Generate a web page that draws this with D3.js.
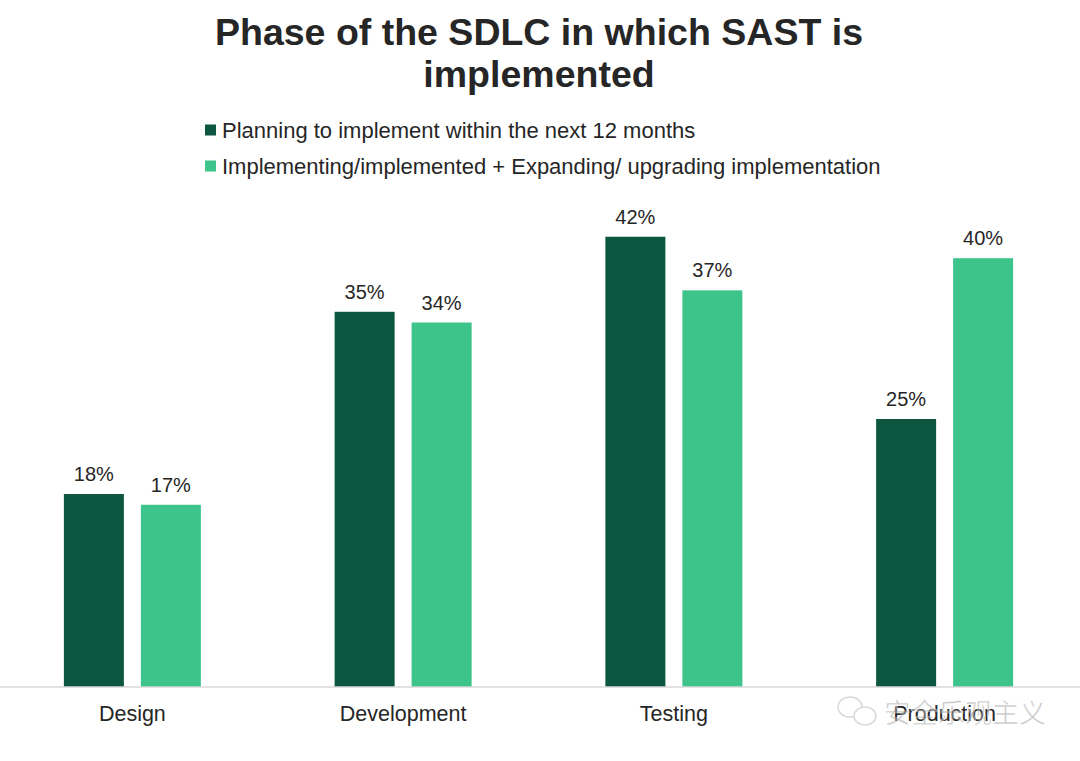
<!DOCTYPE html>
<html><head><meta charset="utf-8">
<script src="https://cdn.jsdelivr.net/npm/d3@7"></script>
<style>body{margin:0;background:#fff;}svg{display:block;font-family:"Liberation Sans",Arial,sans-serif;}</style>
</head><body><svg id="c" width="1080" height="761"></svg>
<script>
const categories = ["Design", "Development", "Testing", "Production"];
const seriesNames = ["Planning to implement within the next 12 months", "Implementing/implemented + Expanding/ upgrading implementation"];
const planning = [18, 35, 42, 25];
const implementing = [17, 34, 37, 40];
const colors = ["#0d5640", "#3cc48a"];
const titleLines = ["Phase of the SDLC in which SAST is", "implemented"];

const svg = d3.select("#c");
const baseY = 687;
const x0 = d3.scaleBand().domain(categories).range([-3, 1080]).paddingInner(0).paddingOuter(0);
const x1 = d3.scaleBand().domain([0, 1]).range([-68.5, 68.5]).paddingInner(17 / 77).paddingOuter(0);
const y = d3.scaleLinear().domain([0, 45]).range([baseY, baseY - 45 * 10.72]);

// title
svg.append("g").selectAll("text").data(titleLines).join("text")
  .attr("x", 539).attr("y", (d, i) => 45 + i * 42)
  .attr("text-anchor", "middle").attr("font-size", 37.5).attr("font-weight", "bold")
  .attr("fill", "#262626").text(d => d);

// legend
const lg = svg.append("g").selectAll("g").data(seriesNames).join("g")
  .attr("transform", (d, i) => `translate(205, ${130 + i * 36})`);
lg.append("rect").attr("x", 0).attr("y", -5.5).attr("width", 11).attr("height", 11).attr("fill", (d, i) => colors[i]);
lg.append("text").attr("x", 17).attr("y", 7.8).attr("font-size", 22).attr("fill", "#262626").text(d => d);

const data = categories.map((c, i) => ({c, vals: [planning[i], implementing[i]]}));
const groups = svg.append("g").selectAll("g").data(data).join("g")
  .attr("transform", d => `translate(${x0(d.c) + x0.bandwidth() / 2},0)`);
groups.selectAll("rect").data(d => d.vals.map((v, k) => ({v, k}))).join("rect")
  .attr("x", d => x1(d.k)).attr("width", x1.bandwidth())
  .attr("y", d => y(d.v)).attr("height", d => baseY - y(d.v))
  .attr("fill", d => colors[d.k]);
groups.selectAll("text.v").data(d => d.vals.map((v, k) => ({v, k}))).join("text")
  .attr("class", "v")
  .attr("x", d => x1(d.k) + x1.bandwidth() / 2).attr("y", d => y(d.v) - 13)
  .attr("text-anchor", "middle").attr("font-size", 20).attr("fill", "#262626")
  .text(d => d.v + "%");

// axis
const ax = svg.append("g").attr("transform", `translate(0,${baseY})`)
  .call(d3.axisBottom(x0).tickSize(0).tickPadding(18.5));
ax.select(".domain").attr("stroke", "#d9d9d9").attr("stroke-width", 1.5).attr("d", "M0,0H1080");
ax.selectAll("text").attr("font-size", 21.5).attr("fill", "#262626").attr("font-family", "Liberation Sans, Arial, sans-serif");

// watermark
const wm = svg.append("g").attr("opacity", 0.55);
wm.append("text").attr("x", 884).attr("y", 723).attr("font-size", 27)
  .attr("font-family", "Noto Sans CJK SC").attr("fill", "#999").attr("stroke", "#fff").attr("stroke-width", 0.6)
  .text("安全乐观主义");
wm.append("ellipse").attr("cx", 850).attr("cy", 707).attr("rx", 12).attr("ry", 10).attr("fill", "none").attr("stroke", "#bbb").attr("stroke-width", 1.5);
wm.append("ellipse").attr("cx", 865).attr("cy", 716).attr("rx", 11).attr("ry", 9).attr("fill", "#fff").attr("stroke", "#bbb").attr("stroke-width", 1.5);
</script></body></html>
